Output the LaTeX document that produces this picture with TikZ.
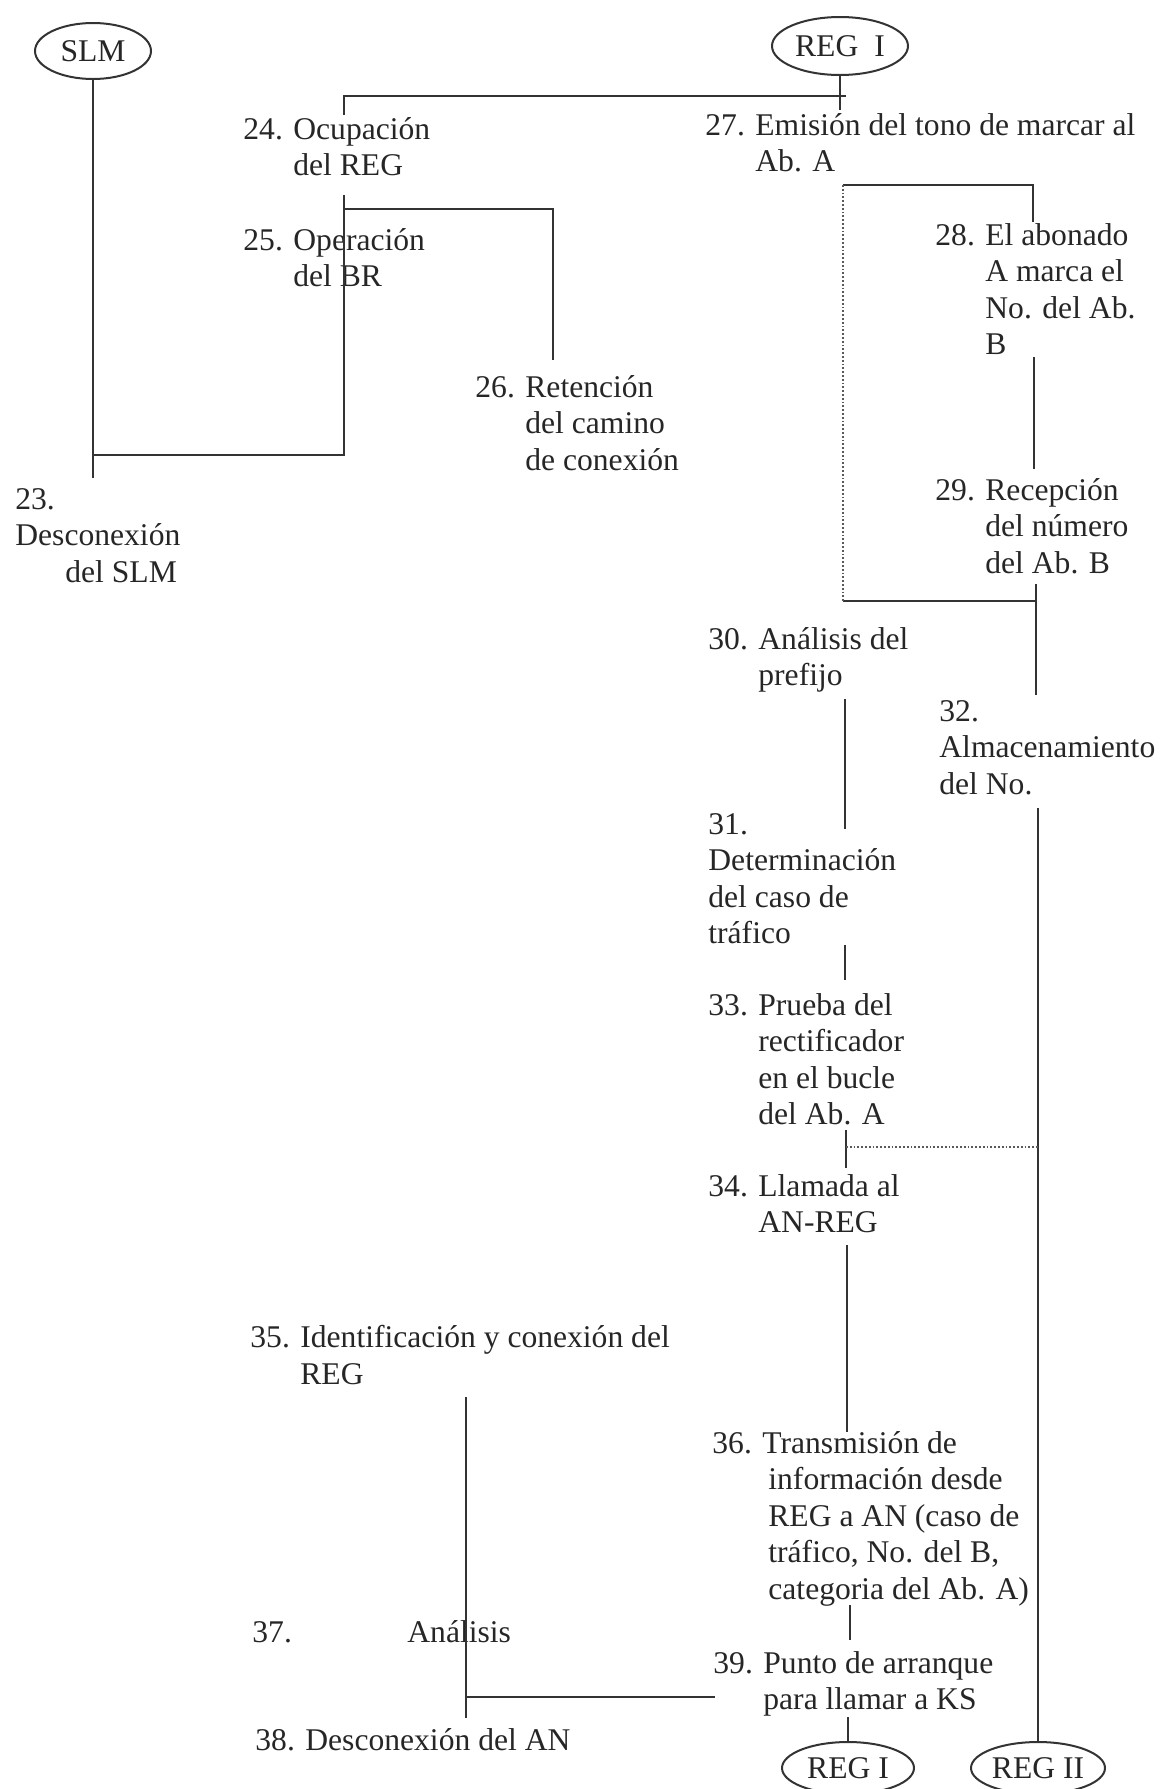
\documentclass[tikz,border=0pt]{standalone}
\usepackage{fontspec}
\setmainfont{Liberation Serif}
\usetikzlibrary{positioning,shapes.geometric}

\begin{document}
\begin{tikzpicture}[x=0.5pt, y=-0.5pt,
				unit/.style={ellipse, draw=black!80, line width=1pt, minimum width=58pt, minimum height=28pt, inner sep=0pt, text=black!85, font=\fontsize{15.8}{18.25}\selectfont},
				paso/.style={anchor=north west, align=left, inner sep=0pt, text=black!85, font=\fontsize{15.8}{18.25}\selectfont},
				con/.style={draw=black!80, line width=1.1pt},
				fino/.style={draw=black!65, line width=0.9pt, densely dotted}
			]
			\useasboundingbox (0,0) rectangle (1160,1789);
			\node[unit] (slm) at (93,51) {SLM};
			\node[unit, minimum width=68pt, minimum height=29pt] (regA) at (840,46) {REG\hspace{8pt}I};
			\node[unit, minimum width=66pt, minimum height=26pt] (regB) at (848,1768) {REG I};
			\node[unit, minimum width=67pt, minimum height=26pt] (regC) at (1038,1768) {REG II};
			\node[paso] (t23) at (15,488) {23.\\Desconexión\\\hspace*{25pt}del SLM};
			\node[paso] (t24) at (243,117) {\makebox[25pt][l]{24.}Ocupación\\\hspace*{25pt}del REG};
			\node[paso] (t25) at (243,228) {\makebox[25pt][l]{25.}Operación\\\hspace*{25pt}del BR};
			\node[paso] (t26) at (475,375) {\makebox[25pt][l]{26.}Retención\\\hspace*{25pt}del camino\\\hspace*{25pt}de conexión};
			\node[paso] (t27) at (705,113) {\makebox[25pt][l]{27.}Emisión del tono de marcar al\\\hspace*{25pt}Ab. A};
			\node[paso] (t28) at (935,223) {\makebox[25pt][l]{28.}El abonado\\\hspace*{25pt}A marca el\\\hspace*{25pt}No. del Ab.\\\hspace*{25pt}B};
			\node[paso] (t29) at (935,478) {\makebox[25pt][l]{29.}Recepción\\\hspace*{25pt}del número\\\hspace*{25pt}del Ab. B};
			\node[paso] (t30) at (708,627) {\makebox[25pt][l]{30.}Análisis del\\\hspace*{25pt}prefijo};
			\node[paso] (t31) at (708,813) {31.\\Determinación\\del caso de\\tráfico};
			\node[paso] (t32) at (939,700) {32.\\Almacenamiento\\del No.};
			\node[paso] (t33) at (708,993) {\makebox[25pt][l]{33.}Prueba del\\\hspace*{25pt}rectificador\\\hspace*{25pt}en el bucle\\\hspace*{25pt}del Ab. A};
			\node[paso] (t34) at (708,1174) {\makebox[25pt][l]{34.}Llamada al\\\hspace*{25pt}AN-REG};
			\node[paso] (t35) at (250,1325) {\makebox[25pt][l]{35.}Identificación y conexión del\\\hspace*{25pt}REG};
			\node[paso] (t36) at (712,1431) {\makebox[25pt][l]{36.}Transmisión de\\\hspace*{28pt}información desde\\\hspace*{28pt}REG a AN (caso de\\\hspace*{28pt}tráfico, No. del B,\\\hspace*{28pt}categoria del Ab. A)};
			\node[paso] (t37) at (252,1620) {\makebox[77.5pt][l]{37.}Análisis};
			\node[paso] (t38) at (255,1728) {\makebox[25pt][l]{38.}Desconexión del AN};
			\node[paso] (t39) at (713,1651) {\makebox[25pt][l]{39.}Punto de arranque\\\hspace*{25pt}para llamar a KS};
			\coordinate (a1) at (93,478);
			\coordinate (a2) at (93,455);
			\coordinate (a3) at (344,455);
			\coordinate (a4) at (344,195);
			\coordinate (b1) at (344,115);
			\coordinate (b2) at (344,96);
			\coordinate (b3) at (846,96);
			\coordinate (b4) at (840,110);
			\coordinate (c1) at (344,209);
			\coordinate (c2) at (553,209);
			\coordinate (c3) at (553,360);
			\coordinate (d1) at (843,185);
			\coordinate (d2) at (1033,185);
			\coordinate (d3) at (1033,222);
			\coordinate (d4) at (843,601);
			\coordinate (d5) at (1036,601);
			\coordinate (e1) at (1034,357);
			\coordinate (e2) at (1034,469);
			\coordinate (e3) at (1036,584);
			\coordinate (e4) at (1036,695);
			\coordinate (f1) at (845,699);
			\coordinate (f2) at (845,829);
			\coordinate (f3) at (845,945);
			\coordinate (f4) at (845,980);
			\coordinate (f5) at (846,1130);
			\coordinate (f6) at (846,1168);
			\coordinate (f7) at (846,1147);
			\coordinate (g1) at (1038,808);
			\coordinate (h1) at (847,1245);
			\coordinate (h2) at (847,1432);
			\coordinate (h3) at (850,1605);
			\coordinate (h4) at (850,1640);
			\coordinate (h5) at (848,1717);
			\coordinate (k1) at (466,1397);
			\coordinate (k2) at (466,1718);
			\coordinate (k3) at (466,1697);
			\coordinate (k4) at (715,1697);
			\begin{scope}[con]
			\draw (slm) -- (a1);
			\draw (a2) -- (a3) -- (a4);
			\draw (b1) -- (b2) -- (b3);
			\draw (regA.south) -- (b4);
			\draw (c1) -- (c2) -- (c3);
			\draw (d1) -- (d2) -- (d3);
			\draw (d4) -- (d5);
			\draw (e1) -- (e2);
			\draw (e3) -- (e4);
			\draw (f1) -- (f2);
			\draw (f3) -- (f4);
			\draw (f5) -- (f6);
			\draw (g1) -- (regC.north);
			\draw (h1) -- (h2);
			\draw (h3) -- (h4);
			\draw (h5) -- (regB.north);
			\draw (k1) -- (k2);
			\draw (k3) -- (k4);
			\end{scope}
			\draw[fino] (d1) -- (d4);
			\draw[fino] (f7) -- (g1 |- f7);
			\end{tikzpicture}
\end{document}
